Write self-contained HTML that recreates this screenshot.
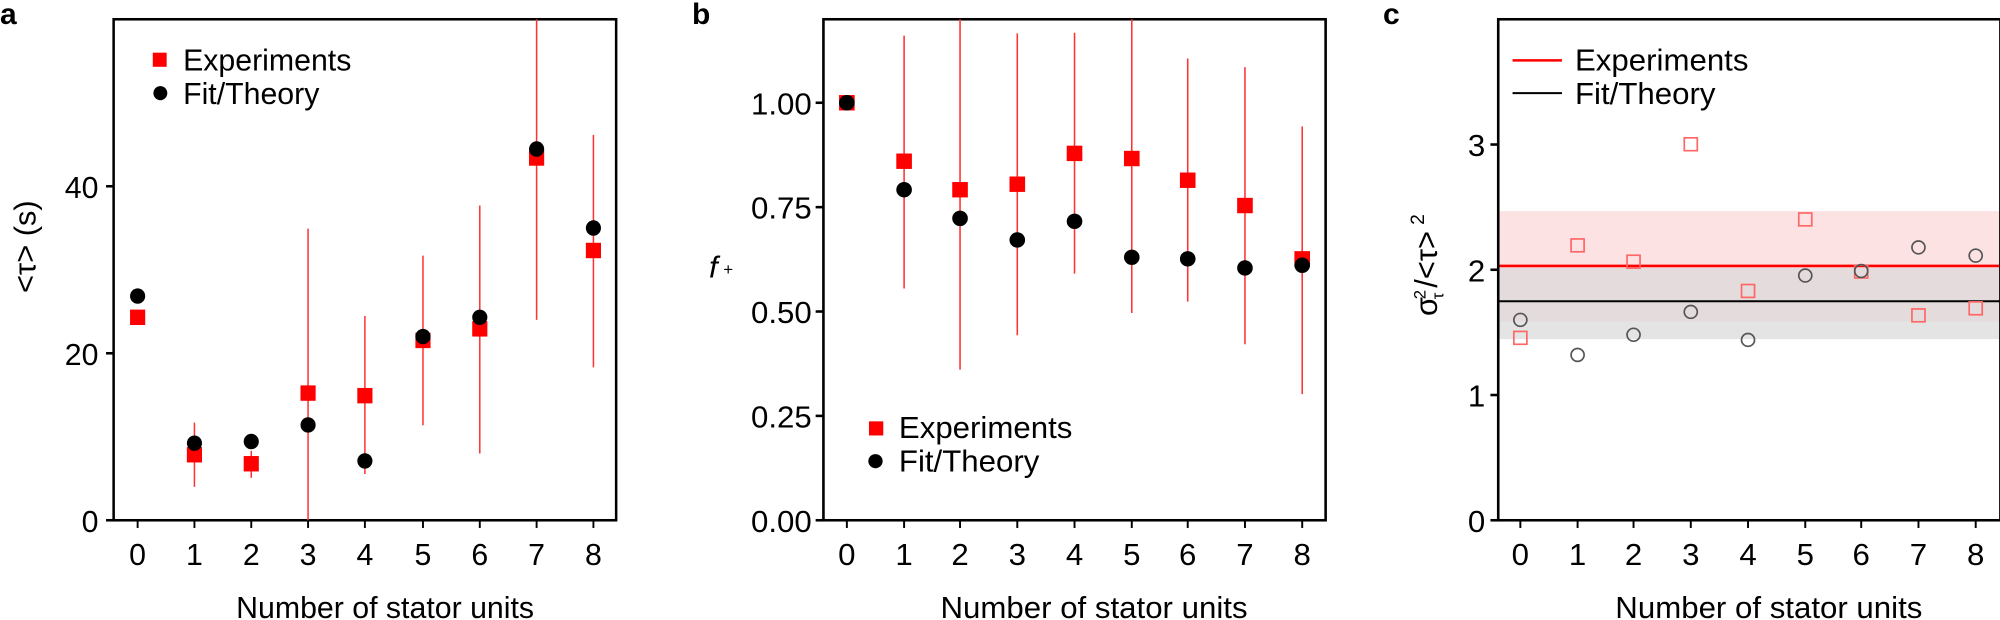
<!DOCTYPE html>
<html><head><meta charset="utf-8"><style>
html,body{margin:0;padding:0;background:#fff;}
svg{display:block;font-family:"Liberation Sans",Arial,sans-serif;}
</style></head><body>
<svg width="2000" height="620" viewBox="0 0 2000 620" xmlns="http://www.w3.org/2000/svg">
<g font-weight="bold" font-size="30" fill="#000">
<text x="0" y="24">a</text><text x="692" y="24">b</text><text x="1383" y="24">c</text>
</g>

<!-- PANEL A -->
<g transform="matrix(1.2626,0,0,1.2846,0,0)">
<rect x="90" y="15" width="398" height="390" fill="none" stroke="#000" stroke-width="2"/>
<g stroke="#000" stroke-width="2">
<line x1="84" y1="405" x2="90" y2="405"/><line x1="84" y1="275" x2="90" y2="275"/><line x1="84" y1="145" x2="90" y2="145"/>
</g>
<g font-size="24" text-anchor="end"><text x="78" y="414">0</text><text x="78" y="284">20</text><text x="78" y="154">40</text></g>
<g stroke="#000" stroke-width="1.5">
<line x1="109" y1="405" x2="109" y2="411"/><line x1="154" y1="405" x2="154" y2="411"/><line x1="199" y1="405" x2="199" y2="411"/><line x1="244" y1="405" x2="244" y2="411"/><line x1="289" y1="405" x2="289" y2="411"/><line x1="335" y1="405" x2="335" y2="411"/><line x1="380" y1="405" x2="380" y2="411"/><line x1="425" y1="405" x2="425" y2="411"/><line x1="470" y1="405" x2="470" y2="411"/>
</g>
<g font-size="24" text-anchor="middle">
<text x="109" y="440">0</text><text x="154" y="440">1</text><text x="199" y="440">2</text><text x="244" y="440">3</text><text x="289" y="440">4</text><text x="335" y="440">5</text><text x="380" y="440">6</text><text x="425" y="440">7</text><text x="470" y="440">8</text>
<text x="305" y="481">Number of stator units</text>
</g>
<text transform="translate(28,192) rotate(-90)" font-size="24" text-anchor="middle">&lt;τ&gt; (s)</text>
<g stroke="#f33" stroke-width="1.2">
<line x1="154" y1="329" x2="154" y2="379"/><line x1="199" y1="351" x2="199" y2="372"/><line x1="244" y1="178" x2="244" y2="405"/><line x1="289" y1="246" x2="289" y2="369"/><line x1="335" y1="199" x2="335" y2="331"/><line x1="380" y1="160" x2="380" y2="353"/><line x1="425" y1="15" x2="425" y2="249"/><line x1="470" y1="105" x2="470" y2="286"/>
</g>
<g fill="#f00">
<rect x="103" y="241" width="12" height="12"/><rect x="148" y="348" width="12" height="12"/><rect x="193" y="355" width="12" height="12"/><rect x="238" y="300" width="12" height="12"/><rect x="283" y="302" width="12" height="12"/><rect x="329" y="259" width="12" height="12"/><rect x="374" y="250" width="12" height="12"/><rect x="419" y="117" width="12" height="12"/><rect x="464" y="189" width="12" height="12"/>
<rect x="121" y="41" width="11" height="11"/>
</g>
<g fill="#000">
<circle cx="109" cy="230.5" r="6"/><circle cx="154" cy="345" r="6"/><circle cx="199" cy="343.7" r="6"/><circle cx="244" cy="330.8" r="6"/><circle cx="289" cy="358.8" r="6"/><circle cx="335" cy="262" r="6"/><circle cx="380" cy="247" r="6"/><circle cx="425" cy="116" r="6"/><circle cx="470" cy="177.5" r="6"/>
<circle cx="127" cy="72.5" r="5.5"/>
</g>
<g font-size="24"><text x="145" y="55">Experiments</text><text x="145" y="81">Fit/Theory</text></g>
</g>

<!-- PANEL B -->
<g transform="translate(640,0) scale(1.301,1.2846) translate(-640,0)">
<rect x="781" y="15" width="386" height="390" fill="none" stroke="#000" stroke-width="2"/>
<g stroke="#000" stroke-width="2">
<line x1="775" y1="405" x2="781" y2="405"/><line x1="775" y1="323.75" x2="781" y2="323.75"/><line x1="775" y1="242.5" x2="781" y2="242.5"/><line x1="775" y1="161.25" x2="781" y2="161.25"/><line x1="775" y1="80" x2="781" y2="80"/>
</g>
<g font-size="24" text-anchor="end"><text x="772" y="414">0.00</text><text x="772" y="332.75">0.25</text><text x="772" y="251.5">0.50</text><text x="772" y="170.25">0.75</text><text x="772" y="89">1.00</text></g>
<g stroke="#000" stroke-width="1.5">
<line x1="799" y1="405" x2="799" y2="411"/><line x1="843" y1="405" x2="843" y2="411"/><line x1="886" y1="405" x2="886" y2="411"/><line x1="930" y1="405" x2="930" y2="411"/><line x1="974" y1="405" x2="974" y2="411"/><line x1="1018" y1="405" x2="1018" y2="411"/><line x1="1061" y1="405" x2="1061" y2="411"/><line x1="1105" y1="405" x2="1105" y2="411"/><line x1="1149" y1="405" x2="1149" y2="411"/>
</g>
<g font-size="24" text-anchor="middle">
<text x="799" y="440">0</text><text x="843" y="440">1</text><text x="886" y="440">2</text><text x="930" y="440">3</text><text x="974" y="440">4</text><text x="1018" y="440">5</text><text x="1061" y="440">6</text><text x="1105" y="440">7</text><text x="1149" y="440">8</text>
<text x="989" y="481">Number of stator units</text>
</g>
<text x="693" y="216" font-size="24" font-style="italic">f</text><text x="704" y="214" font-size="13">+</text>
<g stroke="#f33" stroke-width="1.2">
<line x1="843" y1="27.7" x2="843" y2="224.6"/><line x1="886" y1="15" x2="886" y2="287.7"/><line x1="930" y1="26" x2="930" y2="261"/><line x1="974" y1="25.5" x2="974" y2="213"/><line x1="1018" y1="15" x2="1018" y2="243.7"/><line x1="1061" y1="45.5" x2="1061" y2="234.8"/><line x1="1105" y1="52.3" x2="1105" y2="268"/><line x1="1149" y1="98.5" x2="1149" y2="306.8"/>
</g>
<g fill="#f00">
<rect x="793" y="74" width="12" height="12"/><rect x="837" y="119.5" width="12" height="12"/><rect x="880" y="141.7" width="12" height="12"/><rect x="924" y="137.4" width="12" height="12"/><rect x="968" y="113.4" width="12" height="12"/><rect x="1012" y="117.4" width="12" height="12"/><rect x="1055" y="134.3" width="12" height="12"/><rect x="1099" y="154" width="12" height="12"/><rect x="1143" y="195.5" width="12" height="12"/>
<rect x="816" y="328" width="11" height="11"/>
</g>
<g fill="#000">
<circle cx="799" cy="80" r="6"/><circle cx="843" cy="147.7" r="6"/><circle cx="886" cy="170" r="6"/><circle cx="930" cy="186.8" r="6"/><circle cx="974" cy="172.3" r="6"/><circle cx="1018" cy="200.3" r="6"/><circle cx="1061" cy="201.5" r="6"/><circle cx="1105" cy="208.6" r="6"/><circle cx="1149" cy="206.5" r="6"/>
<circle cx="821" cy="359" r="5.5"/>
</g>
<g font-size="24"><text x="839" y="341">Experiments</text><text x="839" y="367">Fit/Theory</text></g>
</g>

<!-- PANEL C -->
<g transform="translate(1320,0) scale(1.301,1.2846) translate(-1320,0)">
<rect x="1457" y="164.3" width="386" height="86" fill="#fde2e3"/>
<rect x="1457" y="208.6" width="386" height="55.4" fill="#d8d8d8" fill-opacity="0.7"/>
<line x1="1457" y1="207" x2="1843" y2="207" stroke="#f00" stroke-width="2"/>
<line x1="1457" y1="234.5" x2="1843" y2="234.5" stroke="#000" stroke-width="1.5"/>
<rect x="1457" y="15" width="386" height="390" fill="none" stroke="#000" stroke-width="2"/>
<g stroke="#000" stroke-width="2">
<line x1="1451" y1="405" x2="1457" y2="405"/><line x1="1451" y1="307.5" x2="1457" y2="307.5"/><line x1="1451" y1="210" x2="1457" y2="210"/><line x1="1451" y1="112.5" x2="1457" y2="112.5"/>
</g>
<g font-size="24" text-anchor="end"><text x="1447" y="414">0</text><text x="1447" y="316.5">1</text><text x="1447" y="219">2</text><text x="1447" y="121.5">3</text></g>
<g stroke="#000" stroke-width="1.5">
<line x1="1474" y1="405" x2="1474" y2="411"/><line x1="1518" y1="405" x2="1518" y2="411"/><line x1="1561" y1="405" x2="1561" y2="411"/><line x1="1605" y1="405" x2="1605" y2="411"/><line x1="1649" y1="405" x2="1649" y2="411"/><line x1="1693" y1="405" x2="1693" y2="411"/><line x1="1736" y1="405" x2="1736" y2="411"/><line x1="1780" y1="405" x2="1780" y2="411"/><line x1="1824" y1="405" x2="1824" y2="411"/>
</g>
<g font-size="24" text-anchor="middle">
<text x="1474" y="440">0</text><text x="1518" y="440">1</text><text x="1561" y="440">2</text><text x="1605" y="440">3</text><text x="1649" y="440">4</text><text x="1693" y="440">5</text><text x="1736" y="440">6</text><text x="1780" y="440">7</text><text x="1824" y="440">8</text>
<text x="1665" y="481">Number of stator units</text>
</g>
<g transform="translate(1410,206) rotate(-90)" font-size="24">
<text x="-40" y="0">σ</text><text x="-27" y="-9" font-size="13">2</text><text x="-27" y="5" font-size="13">τ</text><text x="-18" y="0">/&lt;τ&gt;</text><text x="31" y="-10" font-size="15">2</text>
</g>
<g fill="none" stroke="#f66" stroke-width="1.3">
<rect x="1469" y="258" width="10" height="10"/><rect x="1513" y="186" width="10" height="10"/><rect x="1556" y="198.7" width="10" height="10"/><rect x="1600" y="107.3" width="10" height="10"/><rect x="1644" y="221.5" width="10" height="10"/><rect x="1688" y="165.8" width="10" height="10"/><rect x="1731" y="206.4" width="10" height="10"/><rect x="1775" y="240.5" width="10" height="10"/><rect x="1819" y="235" width="10" height="10"/>
</g>
<g fill="none" stroke="#555" stroke-width="1.3">
<circle cx="1474" cy="249" r="5"/><circle cx="1518" cy="276.3" r="5"/><circle cx="1561" cy="260.6" r="5"/><circle cx="1605" cy="242.8" r="5"/><circle cx="1649" cy="264.6" r="5"/><circle cx="1693" cy="214.5" r="5"/><circle cx="1736" cy="211" r="5"/><circle cx="1780" cy="192.6" r="5"/><circle cx="1824" cy="199" r="5"/>
</g>
<line x1="1468" y1="47" x2="1506" y2="47" stroke="#f00" stroke-width="2"/>
<line x1="1468" y1="72.5" x2="1506" y2="72.5" stroke="#000" stroke-width="1.5"/>
<g font-size="24"><text x="1516" y="55">Experiments</text><text x="1516" y="81">Fit/Theory</text></g>
</g>
</svg>
</body></html>
